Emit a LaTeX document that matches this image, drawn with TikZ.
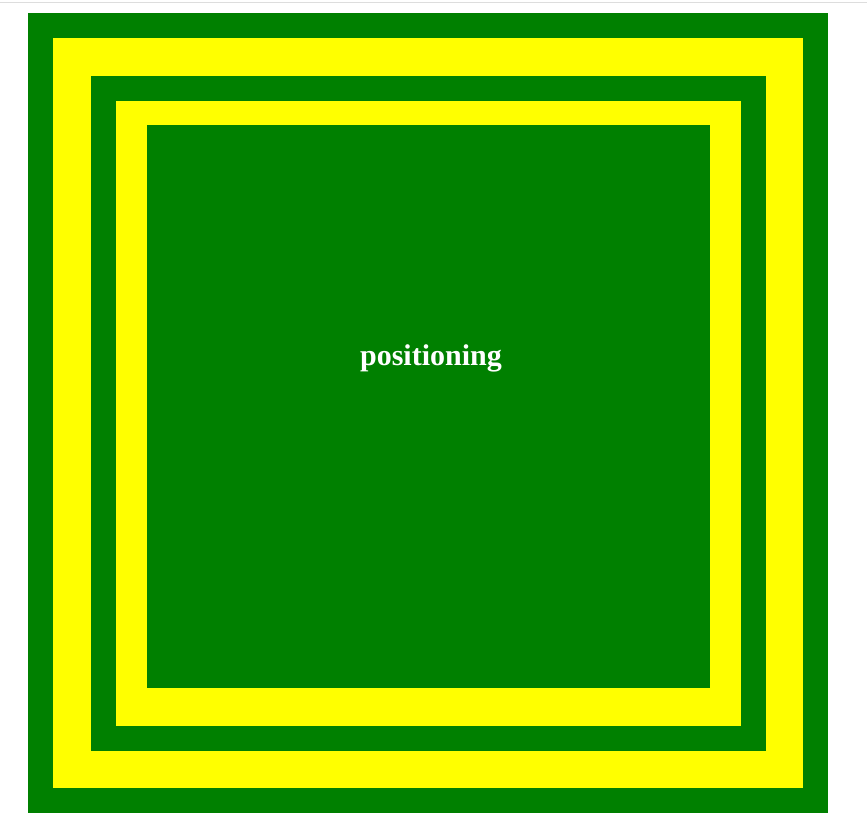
\documentclass[tikz,border=0pt]{standalone}
\usepackage{fontspec}
\setmainfont{Liberation Serif}
\definecolor{cssgreen}{RGB}{0,128,0}
\definecolor{cssyellow}{RGB}{255,255,0}
\definecolor{rulegray}{RGB}{221,221,221}
\tikzset{
  layer/.style={fill=#1, draw=none},
  label text/.style={text=white, font=\fontsize{30}{36}\selectfont\bfseries, inner sep=0pt, anchor=base}
}
\begin{document}
\begin{tikzpicture}[x=1pt, y=-1pt]
\useasboundingbox (0,0) rectangle (867,835);
\fill[white] (0,0) rectangle (867,835);
\fill[rulegray] (0,1.5) rectangle (867,2.5);
\path[layer=cssgreen] (28,13) rectangle (828,813);
\path[layer=cssyellow] (53,38) rectangle (803,788);
\path[layer=cssgreen] (91,76) rectangle (766,751);
\path[layer=cssyellow] (116,101) rectangle (741,726);
\path[layer=cssgreen] (147,125) rectangle (710,688);
\node[label text] (lbl) at (431,365) {positioning};
\end{tikzpicture}
\end{document}
